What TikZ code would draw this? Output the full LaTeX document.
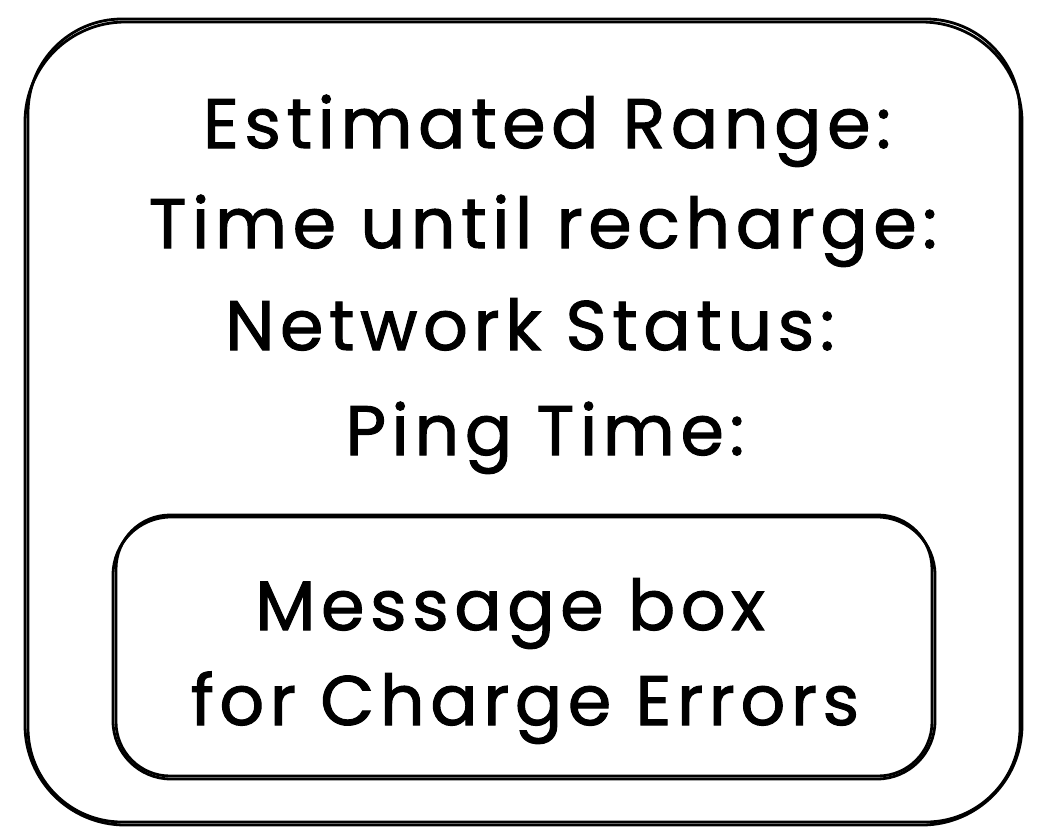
\documentclass[tikz,border=0pt]{standalone}
\usepackage{fontspec}
\setmainfont{Poppins}[LetterSpace=8,FakeBold=1.5]
\begin{document}
\begin{tikzpicture}[x=1pt,y=-1pt,
  boxline/.style={draw=black,line width=2.8pt,line cap=round,line join=round},
  label/.style={anchor=base,font=\fontsize{70}{74}\selectfont,inner sep=0pt}]
\useasboundingbox[fill=white] (0,0) rectangle (1046,836);
% outer box (sketchy double stroke)
\draw[boxline,rounded corners=100pt] (25,22) rectangle (1022,825);
\draw[boxline,rounded corners=94pt] (28,19) rectangle (1020,822);
% inner box
\draw[boxline,rounded corners=58pt] (113,517) rectangle (935,779);
\draw[boxline,rounded corners=54pt] (116,515) rectangle (932,776);
% texts
\node[label] (t1) at (547,148) {Estimated Range:};
\node[label] (t2) at (543,248) {Time until recharge:};
\node[label] (t3) at (530,350) {Network Status:};
\node[label] (t4) at (545,455) {Ping Time:};
\node[label] (m1) at (510,630) {Message box};
\node[label] (m2) at (525,725) {for Charge Errors};
\end{tikzpicture}
\end{document}
